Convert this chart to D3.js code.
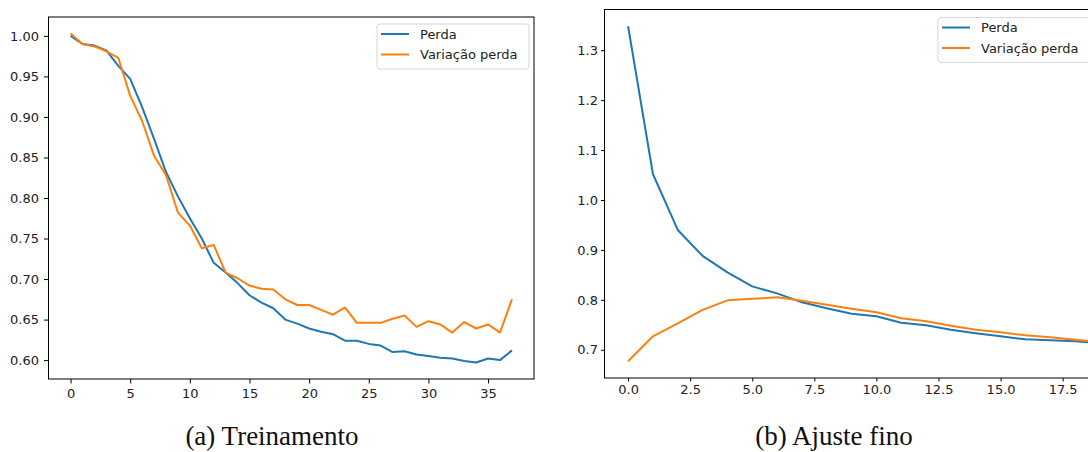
<!DOCTYPE html>
<html>
<head>
<meta charset="utf-8">
<script src="https://cdn.jsdelivr.net/npm/d3@7"></script>
<style>
  body { margin: 0; background: #fff; }
  svg { display: block; }
  .tick text { font-family: "DejaVu Sans", sans-serif; font-size: 13px; fill: #222; }
  .legend text { font-family: "DejaVu Sans", sans-serif; font-size: 13px; fill: #222; }
  .caption { font-family: "Liberation Serif", "Times New Roman", serif; font-size: 27px; fill: #111; }
</style>
</head>
<body>
<div id="chart-area"></div>
<script>
// (a) Treinamento - 38 epochs
var treinoPerda = [1.000, 0.990, 0.988, 0.982, 0.963, 0.947, 0.912, 0.873, 0.832, 0.802,
  0.775, 0.750, 0.720, 0.708, 0.695, 0.680, 0.671, 0.664, 0.650, 0.645,
  0.639, 0.635, 0.632, 0.624, 0.624, 0.620, 0.618, 0.610, 0.611, 0.607,
  0.605, 0.603, 0.602, 0.599, 0.597, 0.602, 0.600, 0.612]
var treinoVarPerda = [1.003, 0.990, 0.987, 0.981, 0.973, 0.926, 0.895, 0.852, 0.828, 0.782,
  0.766, 0.738, 0.742, 0.708, 0.701, 0.692, 0.688, 0.687, 0.675, 0.668,
  0.668, 0.662, 0.656, 0.665, 0.646, 0.646, 0.646, 0.651, 0.655, 0.641,
  0.648, 0.644, 0.634, 0.647, 0.639, 0.644, 0.634, 0.675]

// (b) Ajuste fino - 20 epochs
var ajustePerda = [1.348, 1.052, 0.940, 0.888, 0.855, 0.827, 0.813, 0.795, 0.783, 0.772,
  0.767, 0.754, 0.749, 0.740, 0.733, 0.727, 0.721, 0.719, 0.717, 0.713]
var ajusteVarPerda = [0.677, 0.727, 0.753, 0.780, 0.799, 0.802, 0.805, 0.798, 0.790, 0.782,
  0.775, 0.763, 0.757, 0.748, 0.740, 0.735, 0.729, 0.725, 0.720, 0.715]

var seriesNames = ["Perda", "Variação perda"]
var colors = ["#1f77b4", "#ff7f0e"]

var treinoXTicks = [0, 5, 10, 15, 20, 25, 30, 35]
var treinoYTicks = [0.60, 0.65, 0.70, 0.75, 0.80, 0.85, 0.90, 0.95, 1.00]
var ajusteXTicks = [0, 2.5, 5, 7.5, 10, 12.5, 15, 17.5]
var ajusteYTicks = [0.7, 0.8, 0.9, 1.0, 1.1, 1.2, 1.3]

var svg = d3.select("#chart-area").append("svg")
    .attr("width", 1088)
    .attr("height", 452)

function drawPanel(opt) {
    var n = opt.series[0].length
    var all = opt.series[0].concat(opt.series[1])
    var lo = d3.min(all), hi = d3.max(all)
    var padY = (hi - lo) * 0.05
    var padX = (n - 1) * 0.05

    var x = d3.scaleLinear().domain([-padX, n - 1 + padX]).range([opt.left, opt.right])
    var y = d3.scaleLinear().domain([lo - padY, hi + padY]).range([opt.bottom, opt.top])

    var g = svg.append("g")

    g.append("g")
        .attr("transform", "translate(0," + opt.bottom + ")")
        .call(d3.axisBottom(x).tickValues(opt.xTicks).tickFormat(d3.format(opt.xFmt))
            .tickSizeInner(opt.tick).tickSizeOuter(0).tickPadding(opt.pad))
    g.append("g")
        .attr("transform", "translate(" + opt.left + ",0)")
        .call(d3.axisLeft(y).tickValues(opt.yTicks).tickFormat(d3.format(opt.yFmt))
            .tickSizeInner(opt.tick).tickSizeOuter(0).tickPadding(opt.pad))
    g.selectAll(".domain").remove()
    g.selectAll(".tick line").attr("stroke", "#000").attr("stroke-width", 1)
    g.selectAll(".tick text").attr("font-family", null).attr("font-size", null)

    var line = d3.line()
        .x(function(d, i) { return x(i) })
        .y(function(d) { return y(d) })

    opt.series.forEach(function(s, k) {
        g.append("path")
            .datum(s)
            .attr("fill", "none")
            .attr("stroke", colors[k])
            .attr("stroke-width", 2)
            .attr("stroke-linejoin", "round")
            .attr("d", line)
    })

    // frame
    g.append("rect")
        .attr("x", opt.left).attr("y", opt.top)
        .attr("width", opt.right - opt.left).attr("height", opt.bottom - opt.top)
        .attr("fill", "none").attr("stroke", "#000").attr("stroke-width", 1)

    // legend
    var lg = g.append("g").attr("class", "legend")
        .attr("transform", "translate(" + opt.legX + "," + opt.legY + ")")
    lg.append("rect")
        .attr("width", 152).attr("height", 45).attr("rx", 3)
        .attr("fill", "#fff").attr("fill-opacity", 0.8)
        .attr("stroke", "#d6d6d6").attr("stroke-width", 1)
    seriesNames.forEach(function(name, k) {
        var yy = 10 + k * 20.5
        lg.append("line")
            .attr("x1", 4).attr("x2", 32).attr("y1", yy).attr("y2", yy)
            .attr("stroke", colors[k]).attr("stroke-width", 2)
        lg.append("text")
            .attr("x", 43).attr("y", yy).attr("dy", "0.35em")
            .text(name)
    })

    svg.append("text")
        .attr("class", "caption")
        .attr("x", opt.capX).attr("y", 445)
        .attr("text-anchor", "middle")
        .text(opt.caption)
}

drawPanel({
    series: [treinoPerda, treinoVarPerda],
    left: 48.5, right: 534, top: 17, bottom: 379,
    xTicks: treinoXTicks, yTicks: treinoYTicks, xFmt: "d", yFmt: ".2f",
    tick: 4.5, pad: 5,
    legX: 377, legY: 24,
    capX: 272, caption: "(a) Treinamento"
})

drawPanel({
    series: [ajustePerda, ajusteVarPerda],
    left: 604.5, right: 1123.5, top: 9.5, bottom: 378,
    xTicks: ajusteXTicks, yTicks: ajusteYTicks, xFmt: ".1f", yFmt: ".1f",
    tick: 3.5, pad: 3,
    legX: 938, legY: 17.5,
    capX: 834, caption: "(b) Ajuste fino"
})
</script>
</body>
</html>
